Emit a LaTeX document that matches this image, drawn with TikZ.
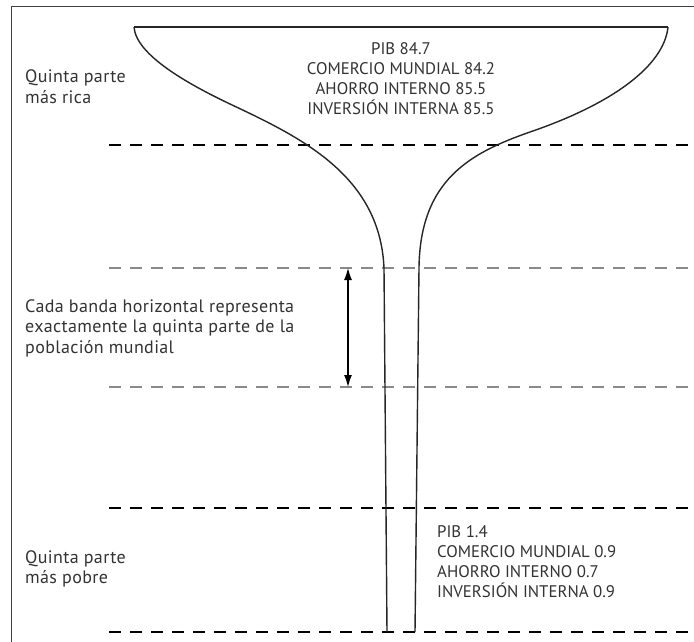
\documentclass[tikz,border=0pt]{standalone}
\usepackage{fontspec}
\setmainfont{PT Sans}
\newfontfamily\lcfont[LetterSpace=2]{PT Sans}
\usetikzlibrary{arrows.meta}
\definecolor{txt}{HTML}{333333}
\definecolor{bandgray}{HTML}{8A8A8A}
\tikzset{
  frameline/.style={draw=black!75, line width=1pt},
  bandline/.style={line width=2pt, dash pattern=on 12pt off 9pt},
  funnel/.style={draw=black!85, line width=1.4pt, line join=round},
  lbl/.style={inner sep=0pt, text=txt, font=\lcfont\fontsize{18}{20.5}\selectfont},
  capslbl/.style={inner sep=0pt, text=txt, font=\fontsize{16.8}{20}\selectfont},
  dblarrow/.style={line width=1.2pt, {Latex[length=12pt,width=8pt]}-{Latex[length=12pt,width=8pt]}}
}
\begin{document}
\begin{tikzpicture}[x=1pt,y=-1pt]
\useasboundingbox (0,0) rectangle (694,642);
\fill[white] (0,0) rectangle (694,642);
% frame
\coordinate (fTL) at (11,7);
\coordinate (fTR) at (694,7);
\coordinate (fBL) at (11,642);
\draw[frameline] (fTR) -- (fTL) -- (fBL);
% band lines
\foreach \n/\y/\c in {1/145/black,2/268/bandgray,3/387/bandgray,4/508/black,5/632/black}{
  \coordinate (b\n L) at (109,\y);
  \coordinate (b\n R) at (694,\y);
  \draw[bandline, draw=\c] (b\n L) -- (b\n R);
}
% funnel
\coordinate (topL) at (134,27);
\coordinate (topR) at (668,27);
\coordinate (inflL) at (230,104);
\coordinate (inflR) at (530,132);
\coordinate (neckL) at (384,268);
\coordinate (neckR) at (419,268);
\coordinate (stemLb) at (387,632);
\coordinate (stemRb) at (415,632);
\draw[funnel, line width=2pt] (topL) -- (topR);
\draw[funnel] (topL) .. controls (136,55) and (188,84) .. (inflL)
  .. controls (300,137) and (380,175) .. (neckL) -- (stemLb);
\draw[funnel] (topR) .. controls (664,66) and (612,104) .. (inflR)
  .. controls (470,153) and (420,180) .. (neckR) -- (stemRb);
% arrow
\coordinate (aT) at (348,268);
\coordinate (aB) at (348,387);
\draw[dblarrow] (aT) -- (aB);
% texts
\node[capslbl, anchor=north, align=center] (rich) at (401,42)
  {PIB 84.7\\COMERCIO MUNDIAL 84.2\\AHORRO INTERNO 85.5\\INVERSIÓN INTERNA 85.5};
\node[capslbl, anchor=north west, align=left] (poor) at (437,525)
  {PIB 1.4\\COMERCIO MUNDIAL 0.9\\AHORRO INTERNO 0.7\\INVERSIÓN INTERNA 0.9};
\node[lbl, anchor=north west, align=left] (qrich) at (25,69.5)
  {Quinta parte\\más rica};
\node[lbl, anchor=north west, align=left] (band) at (25,299)
  {Cada banda horizontal representa\\exactamente la quinta parte de la\\población mundial};
\node[lbl, anchor=north west, align=left] (qpoor) at (25,550)
  {Quinta parte\\más pobre};
\end{tikzpicture}
\end{document}
